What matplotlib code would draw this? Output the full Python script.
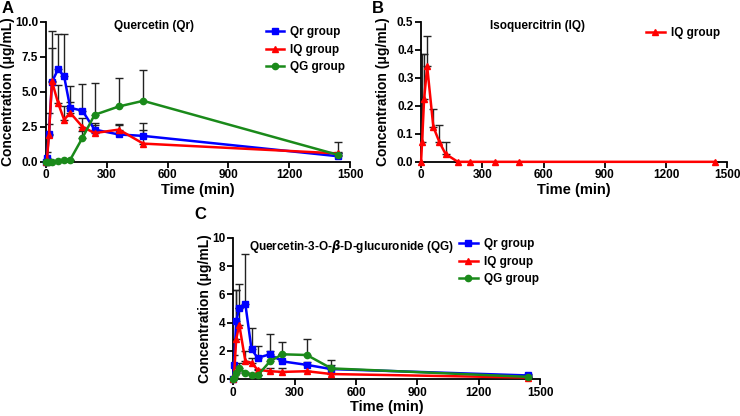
import matplotlib
matplotlib.use("Agg")
import matplotlib.pyplot as plt
import numpy as np

plt.rcParams['font.family'] = ['Liberation Sans', 'DejaVu Sans']
plt.rcParams['font.weight'] = 'bold'

time = [0, 5, 15, 30, 60, 90, 120, 180, 240, 360, 480, 1440]

# Panel A: Quercetin
a_qr = [0, 0.3, 2.0, 5.7, 6.6, 6.1, 3.85, 3.65, 2.3, 1.95, 1.85, 0.4]
a_qr_top = [0, 0.7, 3.5, 8.1, 9.1, 9.1, 5.4, 5.55, 2.8, 2.7, 2.8, 0.6]
a_iq = [0, 0.1, 1.9, 5.75, 4.2, 3.0, 3.5, 2.5, 2.05, 2.3, 1.3, 0.6]
a_iq_top = [0, 0.2, 2.7, 9.3, 5.5, 4.0, 4.3, 3.1, 2.6, 2.6, 2.3, 0.7]
a_qg = [0, 0.0, 0.02, 0.02, 0.05, 0.15, 0.15, 1.7, 3.35, 3.95, 4.35, 0.5]
a_qg_top = [0, 0.0, 0.02, 0.02, 0.05, 0.15, 0.15, 2.2, 5.6, 6.0, 6.55, 1.4]

# Panel B: Isoquercitrin
b_iq = [0, 0.07, 0.225, 0.34, 0.125, 0.07, 0.028, 0, 0, 0, 0, 0]
b_iq_top = [0, 0.385, 0.385, 0.45, 0.19, 0.13, 0.07, 0, 0, 0, 0, 0]

# Panel C: Quercetin-3-O-β-D-glucuronide
c_qr = [0, 1.0, 4.1, 5.0, 5.3, 2.1, 1.5, 1.75, 1.25, 1.0, 0.7, 0.25]
c_qr_top = [0, 1.7, 6.3, 6.75, 8.85, 3.65, 2.35, 3.2, 2.6, 1.2, 1.35, 0.35]
c_iq = [0, 0.3, 2.8, 3.85, 1.25, 1.15, 0.65, 0.55, 0.5, 0.55, 0.35, 0.1]
c_iq_top = [0, 0.5, 6.3, 5.0, 2.0, 1.5, 0.7, 0.8, 0.75, 0.6, 0.4, 0.15]
c_qg = [0, 0.1, 0.4, 0.75, 0.45, 0.3, 0.25, 1.25, 1.75, 1.7, 0.75, 0.15]
c_qg_top = [0, 0.15, 0.5, 1.1, 0.5, 0.35, 0.3, 2.0, 1.8, 2.85, 1.0, 0.2]

blue = '#0000ff'
red = '#ff0000'
green = '#1a8a1a'

fig = plt.figure(figsize=(7.4, 4.16), dpi=100)


def style_ax(ax, ylim, yticks, yfmt, ylab_x):
    ax.set_xlim(0, 1500)
    ax.set_ylim(*ylim)
    ax.set_xticks([0, 300, 600, 900, 1200, 1500])
    ax.set_yticks(yticks)
    ax.set_yticklabels([yfmt.format(v) for v in yticks])
    for s in ['top', 'right']:
        ax.spines[s].set_visible(False)
    for s in ['left', 'bottom']:
        ax.spines[s].set_linewidth(1.3)
    ax.tick_params(width=1.3, length=4, labelsize=8.5, pad=1.5)
    for lab in ax.get_xticklabels() + ax.get_yticklabels():
        lab.set_fontweight('bold')
    ax.set_xlabel('Time (min)', fontsize=10.5, fontweight='bold', labelpad=1)
    ax.set_ylabel('Concentration (μg/mL)', fontsize=10, fontweight='bold')
    ax.yaxis.set_label_coords(ylab_x, 0.5)
    ax.margins(0)


def series(ax, y, top, color, marker, label, ms):
    y = np.array(y)
    top = np.array(top)
    err = np.clip(top - y, 0, None)
    ax.errorbar(time, y, yerr=[np.zeros_like(err), err], fmt='none',
                ecolor='#222222', elinewidth=1.0, capsize=3, capthick=1.0, zorder=2)
    ax.plot(time, y, color=color, marker=marker, lw=1.8, ms=ms, label=label,
            zorder=3, clip_on=False)


leg_kw = dict(frameon=False, prop={'weight': 'bold', 'size': 8.5},
              handlelength=1.6, handletextpad=0.5, labelspacing=0.45,
              borderaxespad=0.0)

# Panel A
axA = fig.add_axes([0.062, 0.611, 0.411, 0.337])
series(axA, a_qr, a_qr_top, blue, 's', 'Qr group', 5)
series(axA, a_iq, a_iq_top, red, '^', 'IQ group', 4.5)
series(axA, a_qg, a_qg_top, green, 'o', 'QG group', 4.5)
style_ax(axA, (0, 10), [0, 2.5, 5.0, 7.5, 10.0], '{:.1f}', -0.1)
axA.text(0.355, 1.01, 'Quercetin (Qr)', transform=axA.transAxes, fontsize=8.5,
         fontweight='bold', va='top', ha='center')
axA.legend(loc='upper right', bbox_to_anchor=(1.0, 1.0), **leg_kw)
fig.text(0.002, 0.998, 'A', fontsize=12, fontweight='bold', va='top', ha='left')

# Panel B
axB = fig.add_axes([0.569, 0.611, 0.414, 0.337])
series(axB, b_iq, b_iq_top, red, '^', 'IQ group', 4.5)
style_ax(axB, (0, 0.5), [0.0, 0.1, 0.2, 0.3, 0.4, 0.5], '{:.1f}', -0.1)
axB.text(0.38, 1.01, 'Isoquercitrin (IQ)', transform=axB.transAxes, fontsize=8.5,
         fontweight='bold', va='top', ha='center')
axB.legend(loc='upper right', bbox_to_anchor=(0.99, 0.995), **leg_kw)
fig.text(0.503, 0.998, 'B', fontsize=12, fontweight='bold', va='top', ha='left')

# Panel C
axC = fig.add_axes([0.315, 0.089, 0.415, 0.339])
series(axC, c_qr, c_qr_top, blue, 's', 'Qr group', 5)
series(axC, c_iq, c_iq_top, red, '^', 'IQ group', 4.5)
series(axC, c_qg, c_qg_top, green, 'o', 'QG group', 4.5)
style_ax(axC, (0, 10), [0, 2, 4, 6, 8, 10], '{:d}', -0.068)
axC.text(0.385, 1.0, 'Quercetin-3-O-$\\boldsymbol{\\beta}$-D-glucuronide (QG)',
         transform=axC.transAxes, fontsize=8.5, fontweight='bold', va='top', ha='center')
axC.legend(loc='upper right', bbox_to_anchor=(1.01, 1.03), **leg_kw)
fig.text(0.263, 0.503, 'C', fontsize=12, fontweight='bold', va='top', ha='left')

fig.savefig('out.png', dpi=100)
